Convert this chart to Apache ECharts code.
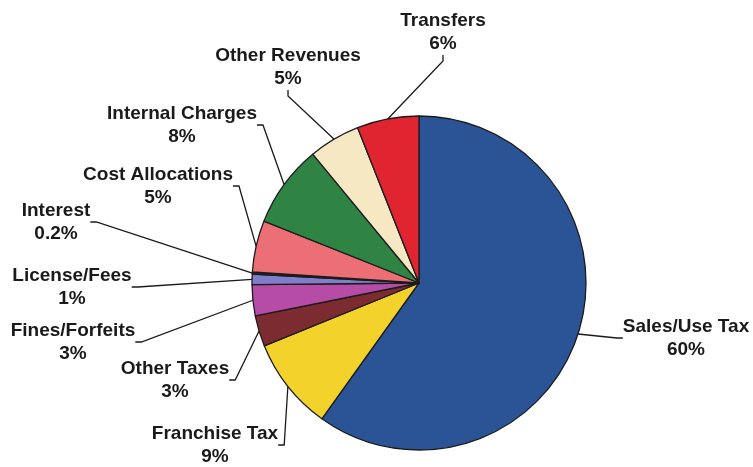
<!DOCTYPE html>
<html>
<head>
<meta charset="utf-8">
<script src="https://cdn.jsdelivr.net/npm/echarts@6/dist/echarts.min.js"></script>
<style>
  html, body { margin: 0; padding: 0; background: #fff; }
  #chart { width: 753px; height: 467px; }
</style>
</head>
<body>
<div id="chart"></div>
<script>
// Revenue sources, clockwise from 12 o'clock
const categories = ['Sales/Use Tax', 'Franchise Tax', 'Other Taxes', 'Fines/Forfeits', 'License/Fees',
    'Interest', 'Cost Allocations', 'Internal Charges', 'Other Revenues', 'Transfers'];
const shares = [60, 9, 3, 3, 1, 0.2, 5, 8, 5, 6];

// slice colours, same order
const sliceColors = ['#2b5497', '#f4d22c', '#7c2b30', '#b64ca6', '#7f7ecb',
    '#1e2838', '#ec6f76', '#2f8444', '#f6e8c2', '#e02530'];

// label block centres (layout only)
const labelPos = [
    [686, 338], [215, 445], [175, 380], [73, 342], [72, 287],
    [56, 222], [158, 186], [182, 125], [288, 67], [443, 32]
];

const chart = echarts.init(document.getElementById('chart'));

chart.setOption({
    animation: false,
    series: [{
        type: 'pie',
        center: [419, 283],
        radius: 167,
        startAngle: 90,
        clockwise: true,
        avoidLabelOverlap: false,
        data: categories.map((name, i) => ({
            name: name,
            value: shares[i],
            itemStyle: {color: sliceColors[i]}
        })),
        itemStyle: {
            borderColor: '#1c1c1c',
            borderWidth: 1.3
        },
        label: {
            show: true,
            formatter: '{b}\n{c}%',
            color: '#1a1a1a',
            fontFamily: 'Liberation Sans, Arial, sans-serif',
            fontWeight: 'bold',
            fontSize: 19,
            lineHeight: 23,
            align: 'center'
        },
        labelLine: {
            show: true,
            length: 10,
            length2: 6,
            lineStyle: {color: '#1a1a1a', width: 1.3}
        },
        labelLayout: function (params) {
            const p = labelPos[params.dataIndex];
            return {
                x: p[0],
                y: p[1],
                align: 'center',
                verticalAlign: 'middle'
            };
        },
        emphasis: {disabled: true}
    }]
});
</script>
</body>
</html>
